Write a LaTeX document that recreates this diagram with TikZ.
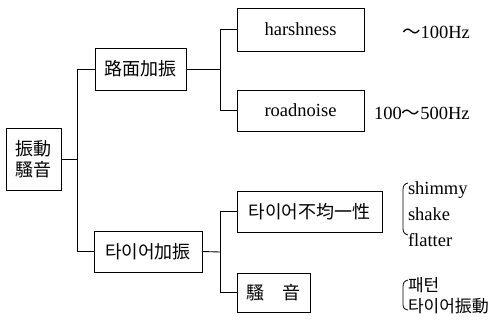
\documentclass[tikz,border=0pt]{standalone}
\usepackage{fontspec}
\setmainfont{Liberation Serif}
\newfontfamily\cjk{Noto Sans CJK KR}
\begin{document}
\begin{tikzpicture}[x=1pt,y=-1pt,
  every node/.style={inner sep=0pt,outer sep=0pt},
  box/.style={draw,line width=0.9pt,minimum height=42pt,font=\fontsize{18.5}{20}\selectfont},
  cbox/.style={box,font=\cjk\fontsize{18}{21}\selectfont},
  conn/.style={line width=0.9pt},
  lbl/.style={anchor=west,font=\fontsize{18.5}{20}\selectfont},
  clbl/.style={anchor=west,font=\cjk\fontsize{17}{20}\selectfont},
  brk/.style={line width=0.8pt}]
\useasboundingbox (0,0) rectangle (497,322);
% boxes
\node[cbox,minimum width=55pt,minimum height=62pt,align=center] (root) at (33.5,159) {振動\\騷音};
\node[cbox,minimum width=91pt] (road) at (140.5,69) {路面加振};
\node[cbox,minimum width=108pt,minimum height=41pt] (tire) at (148,251.5) {타이어加振};
\node[box,minimum width=127pt,minimum height=43pt] (harsh) at (300.5,29.5) {harshness};
\node[box,minimum width=127pt,minimum height=41pt] (rn) at (300.5,110.5) {roadnoise};
\node[cbox,minimum width=145pt,minimum height=41pt] (nu) at (309.5,211.5) {타이어不均一性};
\node[cbox,minimum width=73pt,minimum height=39pt] (ns) at (273.5,292.5) {騷\hspace{18pt}音};
% junctions
\coordinate (j1) at (77,159);
\coordinate (j2) at (220,69);
\coordinate (j3) at (220,252);
\draw[conn] (root.east) -- (j1);
\draw[conn] (j1) |- (road.west);
\draw[conn] (j1) |- (tire.west);
\draw[conn] (road.east) -- (j2);
\draw[conn] (j2) |- (harsh.west);
\draw[conn] (j2) |- (rn.west);
\draw[conn] (tire.east) -- (j3);
\draw[conn] (j3) |- (nu.west);
\draw[conn] (j3) |- (ns.west);
% labels
\node[lbl] (f1) at (402,32) {{\cjk ～}100Hz};
\node[lbl] (f2) at (374,113) {100{\cjk ～}500Hz};
\node[lbl] (s1) at (408,190) {shimmy};
\node[lbl] (s2) at (408,214) {shake};
\node[lbl] (s3) at (408,240) {flatter};
\node[clbl] (k1) at (408,285) {패턴};
\node[clbl] (k2) at (408,306) {타이어振動};
% brackets
\draw[brk] (408,183) .. controls (404,184) and (403,186) .. (403,190) -- (403,228) .. controls (403,232) and (404,234) .. (408,235);
\draw[brk] (408,280) .. controls (404,281) and (403,283) .. (403,287) -- (403,304) .. controls (403,308) and (404,309) .. (408,310);
\end{tikzpicture}
\end{document}
